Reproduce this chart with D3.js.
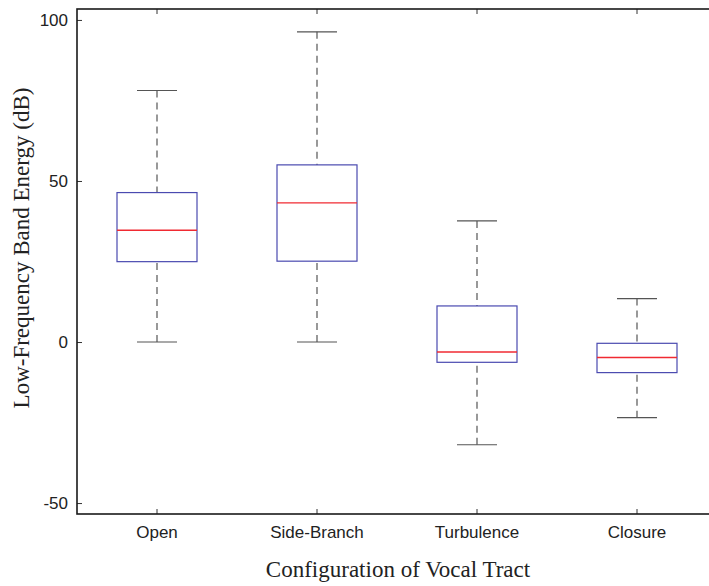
<!DOCTYPE html>
<html><head><meta charset="utf-8">
<script src="https://cdn.jsdelivr.net/npm/d3@7"></script>
<style>body{margin:0;background:#fff;overflow:hidden}svg{display:block}</style>
</head><body>
<svg id="chart" width="709" height="586"></svg>
<script>
const categories = ["Open", "Side-Branch", "Turbulence", "Closure"];
const lowerWhisker = [0, 0, -31.9, -23.5];
const q1 = [24.95, 25.1, -6.3, -9.5];
const median = [34.7, 43.2, -3.1, -4.8];
const q3 = [46.4, 55.0, 11.2, -0.4];
const upperWhisker = [78.1, 96.3, 37.6, 13.5];
const yTicks = [-50, 0, 50, 100];
const yDomain = [-53.4, 103.4];

(function () {
const svg = d3.select("#chart");
const mLeft = 77, mRight = 717, mTop = 9, mBottom = 514;

const x = d3.scaleBand().domain(categories).range([mLeft, mRight]).padding(0);
const y = d3.scaleLinear().domain(yDomain).range([mBottom, mTop]);
const bw = x.bandwidth();
const cx = c => x(c) + bw / 2;

const data = categories.map((c, i) => ({c, lo: lowerWhisker[i], q1: q1[i], med: median[i], q3: q3[i], hi: upperWhisker[i]}));

const g = svg.append("g");
const whiskColor = "#555", boxColor = "#4a4ab0", medColor = "#f02a32";

// whiskers
g.selectAll("line.wu").data(data).join("line").attr("class", "wu")
  .attr("x1", d => cx(d.c)).attr("x2", d => cx(d.c))
  .attr("y1", d => y(d.hi)).attr("y2", d => y(d.q3))
  .attr("stroke", whiskColor).attr("stroke-width", 1.2).attr("stroke-dasharray", "7,5");
g.selectAll("line.wl").data(data).join("line").attr("class", "wl")
  .attr("x1", d => cx(d.c)).attr("x2", d => cx(d.c))
  .attr("y1", d => y(d.lo)).attr("y2", d => y(d.q1))
  .attr("stroke", whiskColor).attr("stroke-width", 1.2).attr("stroke-dasharray", "7,5");
// caps
["hi", "lo"].forEach(k => {
  g.selectAll("line.cap" + k).data(data).join("line").attr("class", "cap" + k)
    .attr("x1", d => cx(d.c) - bw * 0.125).attr("x2", d => cx(d.c) + bw * 0.125)
    .attr("y1", d => y(d[k])).attr("y2", d => y(d[k]))
    .attr("stroke", whiskColor).attr("stroke-width", 1.2);
});
// boxes
g.selectAll("rect.box").data(data).join("rect").attr("class", "box")
  .attr("x", d => cx(d.c) - bw * 0.25).attr("width", bw * 0.5)
  .attr("y", d => y(d.q3)).attr("height", d => y(d.q1) - y(d.q3))
  .attr("fill", "none").attr("stroke", boxColor).attr("stroke-width", 1.2);
// medians
g.selectAll("line.med").data(data).join("line").attr("class", "med")
  .attr("x1", d => cx(d.c) - bw * 0.25).attr("x2", d => cx(d.c) + bw * 0.25)
  .attr("y1", d => y(d.med)).attr("y2", d => y(d.med))
  .attr("stroke", medColor).attr("stroke-width", 1.4);

// axes
const tickFont = "Liberation Sans, Arial, sans-serif";
const yAxis = svg.append("g").attr("transform", `translate(${mLeft},0)`)
  .call(d3.axisLeft(y).tickValues(yTicks).tickFormat(d => String(d))
    .tickSizeInner(-5).tickSizeOuter(0).tickPadding(9));
yAxis.select(".domain").remove();
yAxis.selectAll("line").attr("stroke", "#333");
yAxis.selectAll("text").attr("font-family", tickFont).attr("font-size", 17).attr("fill", "#222");

const xAxis = svg.append("g").attr("transform", `translate(0,${mBottom})`)
  .call(d3.axisBottom(x).tickSizeInner(-5).tickSizeOuter(0).tickPadding(12));
xAxis.select(".domain").remove();
xAxis.selectAll("line").attr("stroke", "#333");
xAxis.selectAll("text").attr("font-family", tickFont).attr("font-size", 17).attr("fill", "#222");

const xTop = svg.append("g").attr("transform", `translate(0,${mTop})`)
  .call(d3.axisTop(x).tickSizeInner(-5).tickSizeOuter(0).tickFormat(""));
xTop.select(".domain").remove();
xTop.selectAll("line").attr("stroke", "#333");

// frame
svg.append("rect").attr("x", mLeft).attr("y", mTop).attr("width", mRight - mLeft).attr("height", mBottom - mTop)
  .attr("fill", "none").attr("stroke", "#1a1a1a").attr("stroke-width", 1.6);

// labels
const serif = "Liberation Serif, Times New Roman, serif";
svg.append("text").attr("x", 398).attr("y", 577)
  .attr("text-anchor", "middle").attr("font-family", serif).attr("font-size", 23).attr("fill", "#222")
  .text("Configuration of Vocal Tract");
svg.append("text").attr("transform", `translate(29,248) rotate(-90)`)
  .attr("text-anchor", "middle").attr("font-family", serif).attr("font-size", 23).attr("fill", "#222")
  .text("Low-Frequency Band Energy (dB)");
})();
</script>
</body></html>
